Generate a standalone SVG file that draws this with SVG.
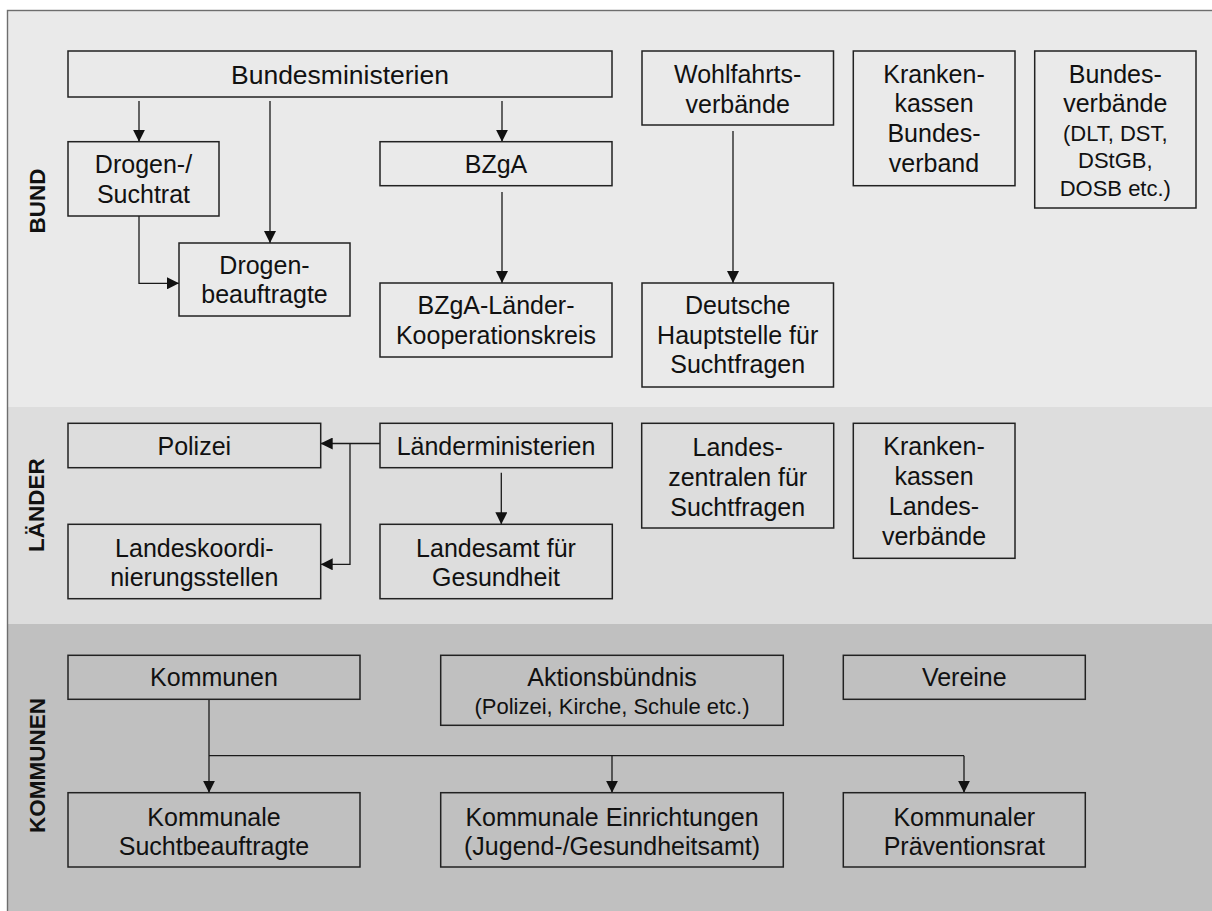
<svg xmlns="http://www.w3.org/2000/svg" width="1212" height="911" viewBox="0 0 1212 911">
<defs>
<style>
.box{fill:none;stroke:#222;stroke-width:1.5}
.t{font-family:"Liberation Sans",Arial,sans-serif;font-size:25px;fill:#111;text-anchor:middle}
.s{font-size:22px}
.side{font-family:"Liberation Sans",Arial,sans-serif;font-size:22.5px;font-weight:bold;fill:#111;text-anchor:middle}
.c{fill:none;stroke:#1a1a1a;stroke-width:1.3}
</style>
<marker id="ah" markerUnits="userSpaceOnUse" markerWidth="12" markerHeight="12" refX="12" refY="6" orient="auto">
<path d="M0,0 L12,6 L0,12 z" fill="#111"/>
</marker>
</defs>
<rect x="0" y="0" width="1212" height="911" fill="#ffffff"/>
<g id="bands">
<rect x="7.5" y="10.5" width="1210" height="396.5" fill="#eaeaea"/>
<rect x="7.5" y="407" width="1210" height="217" fill="#dddddd"/>
<rect x="7.5" y="624" width="1210" height="290" fill="#c0c0c0"/>
<rect x="7.5" y="10.5" width="1210" height="910" fill="none" stroke="#6e6e6e" stroke-width="1.4"/>
</g>
<g id="side-labels">
<text class="side" transform="translate(45,201) rotate(-90)">BUND</text>
<text class="side" transform="translate(44,505) rotate(-90)">LÄNDER</text>
<text class="side" transform="translate(45,765.5) rotate(-90)">KOMMUNEN</text>
</g>
<g id="connectors">
<path class="c" d="M139,101 V141.7" marker-end="url(#ah)"/>
<path class="c" d="M270,101 V243" marker-end="url(#ah)"/>
<path class="c" d="M139,216 V283.3 H179" marker-end="url(#ah)"/>
<path class="c" d="M502,101 V141.7" marker-end="url(#ah)"/>
<path class="c" d="M502,192 V283" marker-end="url(#ah)"/>
<path class="c" d="M733,131 V283" marker-end="url(#ah)"/>
<path class="c" d="M380,443.5 H320.7" marker-end="url(#ah)"/>
<path class="c" d="M350,443.5 V564.3 H320.7" marker-end="url(#ah)"/>
<path class="c" d="M501.3,472.7 V524.3" marker-end="url(#ah)"/>
<path class="c" d="M209,699.3 V792.7" marker-end="url(#ah)"/>
<path class="c" d="M209,755.7 H964"/>
<path class="c" d="M612,755 V792.7" marker-end="url(#ah)"/>
<path class="c" d="M964,755.7 V792.7" marker-end="url(#ah)"/>
</g>
<g id="bundesministerien">
<rect class="box" x="68" y="51" width="544" height="46"/>
<text class="t" x="340" y="83.5" style="font-size:26.5px">Bundesministerien</text>
</g>
<g id="suchtrat">
<rect class="box" x="68" y="141.7" width="151" height="74.3"/>
<text class="t" x="143.5" y="173.3">Drogen-/</text>
<text class="t" x="143.5" y="202.7">Suchtrat</text>
</g>
<g id="drogenbeauftragte">
<rect class="box" x="179" y="243" width="171" height="73"/>
<text class="t" x="264.5" y="273.5">Drogen-</text>
<text class="t" x="264.5" y="303">beauftragte</text>
</g>
<g id="bzga">
<rect class="box" x="380" y="141.7" width="232" height="44"/>
<text class="t" x="496" y="173">BZgA</text>
</g>
<g id="bzga-kooperationskreis">
<rect class="box" x="380" y="283" width="232" height="74"/>
<text class="t" x="496" y="314">BZgA-Länder-</text>
<text class="t" x="496" y="343.5">Kooperationskreis</text>
</g>
<g id="wohlfahrtsverbaende">
<rect class="box" x="642" y="51" width="191.5" height="74"/>
<text class="t" x="737.7" y="83">Wohlfahrts-</text>
<text class="t" x="737.7" y="112.5">verbände</text>
</g>
<g id="dhs">
<rect class="box" x="642" y="283" width="191.5" height="104"/>
<text class="t" x="737.7" y="314">Deutsche</text>
<text class="t" x="737.7" y="343.5">Hauptstelle für</text>
<text class="t" x="737.7" y="373">Suchtfragen</text>
</g>
<g id="krankenkassen-bund">
<rect class="box" x="853.3" y="51" width="161.7" height="134.7"/>
<text class="t" x="934" y="82.7">Kranken-</text>
<text class="t" x="934" y="112">kassen</text>
<text class="t" x="934" y="141.7">Bundes-</text>
<text class="t" x="934" y="171.5">verband</text>
</g>
<g id="bundesverbaende">
<rect class="box" x="1034.7" y="51" width="161.3" height="157"/>
<text class="t" x="1115.3" y="82.7">Bundes-</text>
<text class="t" x="1115.3" y="112">verbände</text>
<text class="t s" x="1115.3" y="140.5">(DLT, DST,</text>
<text class="t s" x="1115.3" y="168">DStGB,</text>
<text class="t s" x="1115.3" y="195.5">DOSB etc.)</text>
</g>
<g id="polizei">
<rect class="box" x="68" y="423.3" width="252.7" height="44.4"/>
<text class="t" x="194.3" y="454.7">Polizei</text>
</g>
<g id="landeskoordinierungsstellen">
<rect class="box" x="68" y="524.3" width="252.7" height="74.4"/>
<text class="t" x="194.3" y="556.5">Landeskoordi-</text>
<text class="t" x="194.3" y="586">nierungsstellen</text>
</g>
<g id="laenderministerien">
<rect class="box" x="380" y="423.3" width="232.3" height="44.4"/>
<text class="t" x="496" y="454.7">Länderministerien</text>
</g>
<g id="landesamt">
<rect class="box" x="380" y="524.3" width="232.3" height="74.4"/>
<text class="t" x="496" y="556.5">Landesamt für</text>
<text class="t" x="496" y="586">Gesundheit</text>
</g>
<g id="landeszentralen">
<rect class="box" x="641.7" y="423.3" width="192" height="104.7"/>
<text class="t" x="737.7" y="455.5">Landes-</text>
<text class="t" x="737.7" y="485.5">zentralen für</text>
<text class="t" x="737.7" y="515.5">Suchtfragen</text>
</g>
<g id="krankenkassen-land">
<rect class="box" x="853.3" y="423.3" width="161.7" height="135"/>
<text class="t" x="934" y="455">Kranken-</text>
<text class="t" x="934" y="485">kassen</text>
<text class="t" x="934" y="515">Landes-</text>
<text class="t" x="934" y="545">verbände</text>
</g>
<g id="kommunen">
<rect class="box" x="68" y="655.3" width="292" height="44"/>
<text class="t" x="214" y="686.3">Kommunen</text>
</g>
<g id="aktionsbuendnis">
<rect class="box" x="440.7" y="655.3" width="342.6" height="70"/>
<text class="t" x="612" y="686.3">Aktionsbündnis</text>
<text class="t s" x="612" y="714">(Polizei, Kirche, Schule etc.)</text>
</g>
<g id="vereine">
<rect class="box" x="843.3" y="655.3" width="242" height="44"/>
<text class="t" x="964.3" y="686.3">Vereine</text>
</g>
<g id="kommunale-suchtbeauftragte">
<rect class="box" x="68" y="792.7" width="292" height="74.3"/>
<text class="t" x="214" y="825.5">Kommunale</text>
<text class="t" x="214" y="855">Suchtbeauftragte</text>
</g>
<g id="kommunale-einrichtungen">
<rect class="box" x="440.7" y="792.7" width="342.6" height="74.3"/>
<text class="t" x="612" y="825.5">Kommunale Einrichtungen</text>
<text class="t" x="612" y="855">(Jugend-/Gesundheitsamt)</text>
</g>
<g id="praeventionsrat">
<rect class="box" x="843.3" y="792.7" width="242" height="74.3"/>
<text class="t" x="964.3" y="825.5">Kommunaler</text>
<text class="t" x="964.3" y="855">Präventionsrat</text>
</g>
</svg>
